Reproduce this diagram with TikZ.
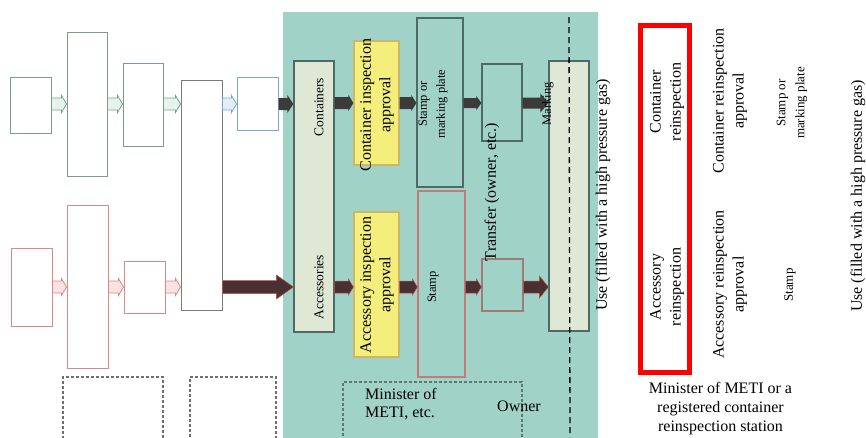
\documentclass[tikz,border=0pt]{standalone}
\usepackage{fontspec}
\setmainfont{Liberation Serif}
\usetikzlibrary{calc}
\definecolor{tealbg}{HTML}{A0D2C8}
\definecolor{paleg}{HTML}{DEE8D5}
\definecolor{boxline}{HTML}{4D6B64}
\definecolor{yellowf}{HTML}{F4EE7C}
\definecolor{yellowd}{HTML}{C9B869}
\definecolor{lgreen}{HTML}{7AA08C}
\definecolor{lred}{HTML}{D98888}
\definecolor{lgray}{HTML}{7A7A7A}
\definecolor{lblue}{HTML}{78A6D0}
\definecolor{hgreen}{HTML}{E6F3EC}
\definecolor{hpink}{HTML}{FBE3E3}
\definecolor{hblue}{HTML}{E3EEF9}
\definecolor{darkarr}{HTML}{3B3B3B}
\definecolor{darkred}{HTML}{4A3030}
\definecolor{redrim}{HTML}{B55050}
\definecolor{stampred}{HTML}{C27C78}
\definecolor{transred}{HTML}{9C7B78}
\definecolor{dashgray}{HTML}{6F6F6F}
\definecolor{dashteal}{HTML}{5A7A76}
\newcommand{\blockarr}[6]{%
  \path[#1] let \p1=(#2), \p2=(#3) in
    (\x1,{\y1+#4}) -- ({\x2-#6},{\y1+#4}) -- ({\x2-#6},{\y1+#5}) -- (\x2,\y1)
    -- ({\x2-#6},{\y1-#5}) -- ({\x2-#6},{\y1-#4}) -- (\x1,{\y1-#4}) -- cycle;}
\tikzset{
  bx/.style={rectangle, inner sep=0pt, line width=1pt},
  gbox/.style={bx, draw=lgreen, fill=white},
  rbox/.style={bx, draw=lred, fill=white},
  dbox/.style={bx, draw=dashgray, dashed, dash pattern=on 3pt off 2pt, line width=1.2pt},
  tbox/.style={bx, draw=boxline, fill=tealbg, line width=1.2pt},
  pbox/.style={bx, draw=boxline, fill=paleg, line width=1.2pt},
  ybox/.style={bx, draw=yellowd, fill=yellowf, line width=1.2pt},
  hg/.style={draw=lgreen, fill=hgreen, line width=0.8pt},
  hp/.style={draw=lred, fill=hpink, line width=0.8pt},
  hb/.style={draw=lblue, fill=hblue, line width=0.8pt},
  da/.style={fill=darkarr},
  dr/.style={fill=darkred, draw=redrim, line width=0.5pt},
  lbl/.style={inner sep=0pt, align=center, rotate=90, font=\fontsize{16}{19.5}\selectfont},
  mlbl/.style={inner sep=0pt, align=center, rotate=90, font=\fontsize{13.5}{17}\selectfont},
  slbl/.style={inner sep=0pt, align=center, rotate=90, font=\fontsize{12.5}{18}\selectfont},
  hlbl/.style={inner sep=0pt, font=\fontsize{16}{18.5}\selectfont},
}
\begin{document}
\begin{tikzpicture}[x=1pt,y=-1pt]
\useasboundingbox (0,0) rectangle (866,437);
\fill[white] (0,0) rectangle (866,437);
% teal region
\fill[tealbg] (283,12) rectangle (598,440);
\coordinate (row1) at (0,104);
\coordinate (row2) at (0,287);
\coordinate (row1t) at (0,103);
% left green chain
\node[gbox, minimum width=41pt, minimum height=56pt] (g1) at (30.5,105) {};
\node[gbox, minimum width=40pt, minimum height=144pt] (g2) at (87,104) {};
\node[gbox, minimum width=40pt, minimum height=83pt] (g3) at (143,104.5) {};
\node[bx, draw=lgray, fill=white, minimum width=41pt, minimum height=230pt] (g4) at (201.5,195) {};
\node[bx, draw=lblue, fill=white, minimum width=41pt, minimum height=53pt] (g5) at (257.5,103.5) {};
% left red chain
\node[rbox, minimum width=41pt, minimum height=78pt] (r1) at (31.5,287) {};
\node[rbox, minimum width=41pt, minimum height=163pt] (r2) at (87.5,286.5) {};
\node[rbox, minimum width=41pt, minimum height=52pt] (r3) at (144.5,287) {};
% dashed boxes bottom left
\node[dbox, minimum width=100pt, minimum height=66pt] (d1) at (113,410) {};
\node[dbox, minimum width=86pt, minimum height=66pt] (d2) at (233,410) {};
% teal section boxes
\node[pbox, minimum width=40pt, minimum height=271pt] (cont) at (314,196.5) {};
\node[ybox, minimum width=45pt, minimum height=124pt] (yu) at (376.5,103) {};
\node[ybox, minimum width=45pt, minimum height=145pt] (yl) at (376.5,284.5) {};
\node[tbox, minimum width=46pt, minimum height=169pt] (su) at (440,102.5) {};
\node[tbox, draw=stampred, minimum width=47pt, minimum height=186pt] (sl) at (441.5,284) {};
\node[tbox, minimum width=40pt, minimum height=77pt] (tu) at (502,102.5) {};
\node[tbox, draw=transred, minimum width=41pt, minimum height=52pt] (tl) at (502.5,285) {};
\node[pbox, minimum width=40pt, minimum height=270pt] (use) at (569,196) {};
\node[dbox, draw=dashteal, minimum width=179pt, minimum height=66pt] (dt) at (432.5,415) {};
% hollow arrows
\blockarr{hg}{g1.east |- row1}{g2.west |- row1}{6pt}{8.5pt}{5pt}
\blockarr{hg}{g2.east |- row1}{g3.west |- row1}{6pt}{8.5pt}{5pt}
\blockarr{hg}{g3.east |- row1}{g4.west |- row1}{6pt}{8.5pt}{5pt}
\blockarr{hb}{g4.east |- row1}{g5.west |- row1}{6pt}{8.5pt}{5pt}
\blockarr{hp}{r1.east |- row2}{r2.west |- row2}{6pt}{8.5pt}{5pt}
\blockarr{hp}{r2.east |- row2}{r3.west |- row2}{6pt}{8.5pt}{5pt}
\blockarr{hp}{r3.east |- row2}{g4.west |- row2}{6pt}{8.5pt}{5pt}
% dark arrows upper
\blockarr{da}{g5.east |- row1}{cont.west |- row1}{6pt}{9pt}{6pt}
\blockarr{da}{cont.east |- row1t}{yu.west |- row1t}{6pt}{8pt}{5pt}
\blockarr{da}{yu.east |- row1t}{su.west |- row1t}{6pt}{8pt}{5pt}
\blockarr{da}{su.east |- row1t}{tu.west |- row1t}{5pt}{7pt}{5pt}
\blockarr{da}{tu.east |- row1t}{use.west |- row1t}{5.5pt}{9.5pt}{8pt}
% dark arrows lower
\blockarr{dr}{g4.east |- row2}{cont.west |- row2}{6.5pt}{12pt}{17pt}
\blockarr{dr}{cont.east |- row2}{yl.west |- row2}{6pt}{8pt}{5pt}
\blockarr{dr}{yl.east |- row2}{sl.west |- row2}{6pt}{8pt}{5pt}
\blockarr{dr}{sl.east |- row2}{tl.west |- row2}{6pt}{8pt}{5pt}
\blockarr{dr}{tl.east |- row2}{use.west |- row2}{6pt}{11pt}{9pt}
% dashed divider
\coordinate (dtop) at (569,17);
\coordinate (dbot) at (570,437);
\draw[line width=1.3pt, dash pattern=on 6pt off 4pt] (dtop) -- (dbot);
% labels in the teal section
\node[mlbl] (lcont) at (319,107) {Containers};
\node[mlbl] (lacc) at (319,287) {Accessories};
\node[lbl] (lyu) at (377,105) {Container inspection\\approval};
\node[lbl] (lyl) at (377,285) {Accessory inspection\\approval};
\node[slbl] (lsu) at (433,104) {Stamp or\\marking plate};
\node[slbl] (lsl) at (433,287) {Stamp};
\node[lbl] (ltr) at (492,192) {Transfer (owner, etc.)};
\node[slbl] (lmk) at (548,104) {Marking};
\node[lbl] (luse) at (603,195) {Use (filled with a high pressure gas)};
\node[hlbl, anchor=west, align=left] (lmin) at (365,404) {Minister of\\METI, etc.};
\node[hlbl] (lown) at (519,406) {Owner};
% right side
\node[bx, draw=red, line width=5pt, minimum width=49pt, minimum height=347pt] (redb) at (665,199) {};
\node[lbl, font=\fontsize{16}{20}\selectfont] (rcr) at (667,102) {Container\\reinspection};
\node[lbl, font=\fontsize{16}{20}\selectfont] (rar) at (667,287) {Accessory\\reinspection};
\node[lbl, font=\fontsize{16}{20}\selectfont] (rcra) at (730,101) {Container reinspection\\approval};
\node[lbl, font=\fontsize{16}{20}\selectfont] (rara) at (730,284.5) {Accessory reinspection\\approval};
\node[slbl, font=\fontsize{13}{19}\selectfont] (rsm) at (792,103) {Stamp or\\marking plate};
\node[slbl, font=\fontsize{13}{19}\selectfont] (rst) at (790,285) {Stamp};
\node[lbl] (ruse) at (858,196) {Use (filled with a high pressure gas)};
\node[hlbl, align=center, font=\fontsize{16}{19}\selectfont] (rmin) at (720.5,409) {Minister of METI or a\\registered container\\reinspection station};
\end{tikzpicture}
\end{document}
